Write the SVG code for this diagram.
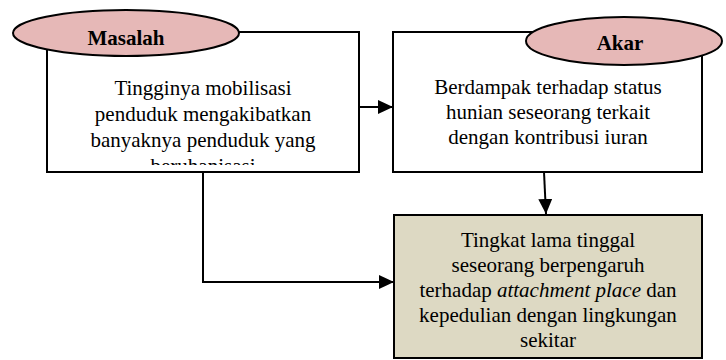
<svg xmlns="http://www.w3.org/2000/svg" width="726" height="360" viewBox="0 0 726 360">
<style>
.box{fill:#ffffff;stroke:#000;stroke-width:2}
.tan{fill:#ddd9c3;stroke:#000;stroke-width:2}
.oval{fill:#e6b8b7;stroke:#000;stroke-width:2}
.t{font-family:'Liberation Serif','Times New Roman',serif;font-size:21px;fill:#000;text-anchor:middle}
.b{font-weight:bold}
.ln{fill:none;stroke:#000;stroke-width:2}
</style>
<defs>
<marker id="ah" markerUnits="userSpaceOnUse" markerWidth="16" markerHeight="16" refX="15" refY="7" orient="auto">
<path d="M0,0 L15,7 L0,14 Z" fill="#000"/>
</marker>
<clipPath id="c1"><rect x="48" y="33" width="310" height="132"/></clipPath>
</defs>
<g id="connectors">
<line class="ln" x1="359" y1="107" x2="393" y2="107" marker-end="url(#ah)"/>
<line class="ln" x1="544" y1="172" x2="546" y2="214" marker-end="url(#ah)"/>
<polyline class="ln" points="203,172 203,282 394,282" marker-end="url(#ah)"/>
</g>
<g id="masalah-box">
<rect class="box" x="47" y="32" width="312" height="140"/>
<g clip-path="url(#c1)">
<text class="t" x="203" y="95">Tingginya mobilisasi</text>
<text class="t" x="203" y="121">penduduk mengakibatkan</text>
<text class="t" x="203" y="147">banyaknya penduduk yang</text>
<text class="t" x="203" y="173">beruhanisasi</text>
</g>
</g>
<g id="masalah-label">
<ellipse class="oval" cx="126" cy="33" rx="113" ry="23"/>
<text class="t b" x="126" y="45">Masalah</text>
</g>
<g id="akar-box">
<rect class="box" x="393" y="32" width="309" height="140"/>
<text class="t" x="548" y="94">Berdampak terhadap status</text>
<text class="t" x="548" y="119">hunian seseorang terkait</text>
<text class="t" x="548" y="144">dengan kontribusi iuran</text>
</g>
<g id="akar-label">
<ellipse class="oval" cx="624" cy="41" rx="98" ry="24"/>
<text class="t b" x="620" y="50">Akar</text>
</g>
<g id="result-box">
<rect class="tan" x="394" y="215" width="308" height="143"/>
<text class="t" x="548" y="247">Tingkat lama tinggal</text>
<text class="t" x="548" y="272">seseorang berpengaruh</text>
<text class="t" x="548" y="297">terhadap <tspan font-style="italic">attachment place</tspan> dan</text>
<text class="t" x="548" y="322">kepedulian dengan lingkungan</text>
<text class="t" x="548" y="347">sekitar</text>
</g>
</svg>
